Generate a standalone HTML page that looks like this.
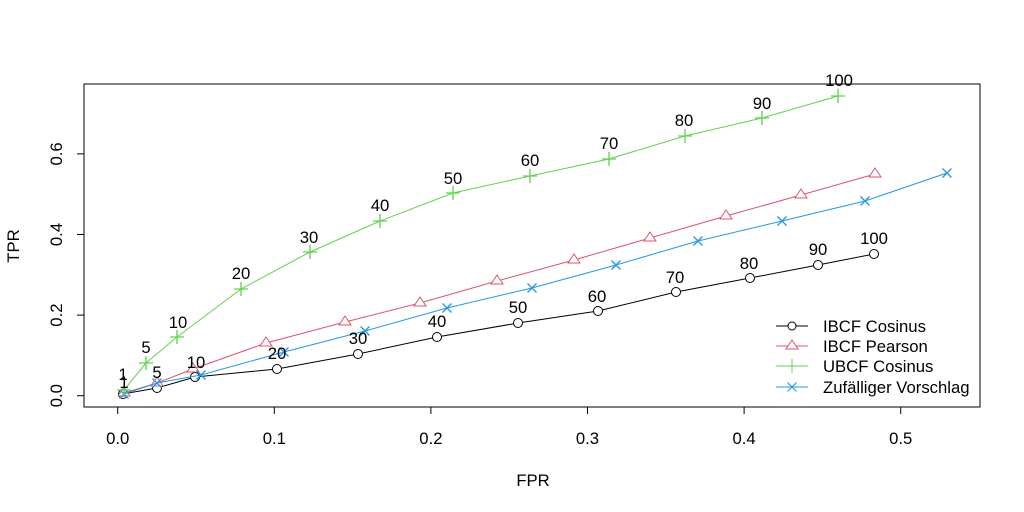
<!DOCTYPE html>
<html><head><meta charset="utf-8"><style>body{margin:0;background:#fff}svg{display:block}</style></head><body>
<svg width="1024" height="512" xmlns="http://www.w3.org/2000/svg" font-family="Liberation Sans, sans-serif" font-size="16.7">
<rect width="1024" height="512" fill="#fff"/>
<rect x="84" y="84" width="896" height="323" fill="none" stroke="#000"/>
<g stroke="#000">
<line x1="117.7" y1="407" x2="117.7" y2="414"/><line x1="274.3" y1="407" x2="274.3" y2="414"/><line x1="430.9" y1="407" x2="430.9" y2="414"/><line x1="587.5" y1="407" x2="587.5" y2="414"/><line x1="744.1" y1="407" x2="744.1" y2="414"/><line x1="900.7" y1="407" x2="900.7" y2="414"/>
<line x1="77" y1="395.7" x2="84" y2="395.7"/><line x1="77" y1="315.1" x2="84" y2="315.1"/><line x1="77" y1="234.5" x2="84" y2="234.5"/><line x1="77" y1="153.9" x2="84" y2="153.9"/>
</g>
<g text-anchor="middle" fill="#000">
<text x="117.7" y="444">0.0</text><text x="274.3" y="444">0.1</text><text x="430.9" y="444">0.2</text><text x="587.5" y="444">0.3</text><text x="744.1" y="444">0.4</text><text x="900.7" y="444">0.5</text>
<text transform="translate(62,395.7) rotate(-90)">0.0</text><text transform="translate(62,315.1) rotate(-90)">0.2</text><text transform="translate(62,234.5) rotate(-90)">0.4</text><text transform="translate(62,153.9) rotate(-90)">0.6</text>
<text x="533" y="486">FPR</text><text transform="translate(19,246) rotate(-90)">TPR</text>
</g>
<polyline fill="none" stroke="#000" points="123,394 157,388 195,377 277,369 358,354 437,337 518,323 598,311 676,292 750,278 818,265 874,254"/>
<g fill="#fff" stroke="#000"><circle cx="123" cy="394" r="4.5"/><circle cx="157" cy="388" r="4.5"/><circle cx="195" cy="377" r="4.5"/><circle cx="277" cy="369" r="4.5"/><circle cx="358" cy="354" r="4.5"/><circle cx="437" cy="337" r="4.5"/><circle cx="518" cy="323" r="4.5"/><circle cx="598" cy="311" r="4.5"/><circle cx="676" cy="292" r="4.5"/><circle cx="750" cy="278" r="4.5"/><circle cx="818" cy="265" r="4.5"/><circle cx="874" cy="254" r="4.5"/></g>
<polyline fill="none" stroke="#DF536B" points="124,393 157,383 193,369 266,343 345,322 420,303 497,281 574,260 650,238 726,216 801,195 875,174"/>
<g fill="#fff" stroke="#DF536B">
<path d="M124,387l6,9h-12z"/><path d="M157,377l6,9h-12z"/><path d="M193,363l6,9h-12z"/><path d="M266,337l6,9h-12z"/><path d="M345,316l6,9h-12z"/><path d="M420,297l6,9h-12z"/><path d="M497,275l6,9h-12z"/><path d="M574,254l6,9h-12z"/><path d="M650,232l6,9h-12z"/><path d="M726,210l6,9h-12z"/><path d="M801,189l6,9h-12z"/><path d="M875,168l6,9h-12z"/></g>
<polyline fill="none" stroke="#2297E6" points="124,394 157,383 201,375 284,352 365,331 447,308 532,288 616,265 698,241 782,221 865,201 947,173"/>
<g stroke="#2297E6" stroke-width="1.3" fill="none">
<path d="M119.5,389.5l9,9m0,-9l-9,9M152.5,378.5l9,9m0,-9l-9,9M196.5,370.5l9,9m0,-9l-9,9M279.5,347.5l9,9m0,-9l-9,9M360.5,326.5l9,9m0,-9l-9,9M442.5,303.5l9,9m0,-9l-9,9M527.5,283.5l9,9m0,-9l-9,9M611.5,260.5l9,9m0,-9l-9,9M693.5,236.5l9,9m0,-9l-9,9M777.5,216.5l9,9m0,-9l-9,9M860.5,196.5l9,9m0,-9l-9,9M942.5,168.5l9,9m0,-9l-9,9"/></g>
<polyline fill="none" stroke="#61D04F" points="124,390 146,363 177,337 241,289 310,252 380,221 453,193 530,176 609,159 685,136 762,118 838,96"/>
<g stroke="#61D04F" stroke-width="1.3" fill="none">
<path d="M117,390h14m-7,-7v14M139,363h14m-7,-7v14M170,337h14m-7,-7v14M234,289h14m-7,-7v14M303,252h14m-7,-7v14M373,221h14m-7,-7v14M446,193h14m-7,-7v14M523,176h14m-7,-7v14M602,159h14m-7,-7v14M678,136h14m-7,-7v14M755,118h14m-7,-7v14M831,96h14m-7,-7v14"/></g>
<g text-anchor="middle" fill="#000">
<text x="123" y="380">1</text><text x="146" y="353">5</text><text x="178" y="328">10</text><text x="241" y="279">20</text><text x="309" y="243">30</text><text x="380" y="211">40</text><text x="453" y="184">50</text><text x="530" y="166">60</text><text x="609" y="149">70</text><text x="684" y="126">80</text><text x="762" y="109">90</text><text x="839" y="86">100</text>
<text x="124" y="388">1</text><text x="157" y="378">5</text><text x="196" y="368">10</text><text x="277" y="359">20</text><text x="358" y="344">30</text><text x="437" y="327">40</text><text x="518" y="313">50</text><text x="597" y="302">60</text><text x="675" y="283">70</text><text x="749" y="269">80</text><text x="818" y="255">90</text><text x="874" y="244">100</text>
</g>
<g>
<line x1="776" y1="326" x2="808" y2="326" stroke="#000"/><circle cx="792" cy="326" r="4" fill="#fff" stroke="#000"/>
<line x1="776" y1="346" x2="808" y2="346" stroke="#DF536B"/><path d="M792,340l6,9h-12z" fill="#fff" stroke="#DF536B"/>
<line x1="776" y1="366" x2="808" y2="366" stroke="#61D04F"/><path d="M785,366h14m-7,-7v14" stroke="#61D04F"/>
<line x1="776" y1="387" x2="808" y2="387" stroke="#2297E6"/><path d="M787.5,382.5l9,9m0,-9l-9,9" stroke="#2297E6"/>
<g fill="#000"><text x="823" y="332">IBCF Cosinus</text><text x="823" y="352">IBCF Pearson</text><text x="823" y="372">UBCF Cosinus</text><text x="823" y="393">Zufälliger Vorschlag</text></g>
</g>
</svg>
</body></html>
